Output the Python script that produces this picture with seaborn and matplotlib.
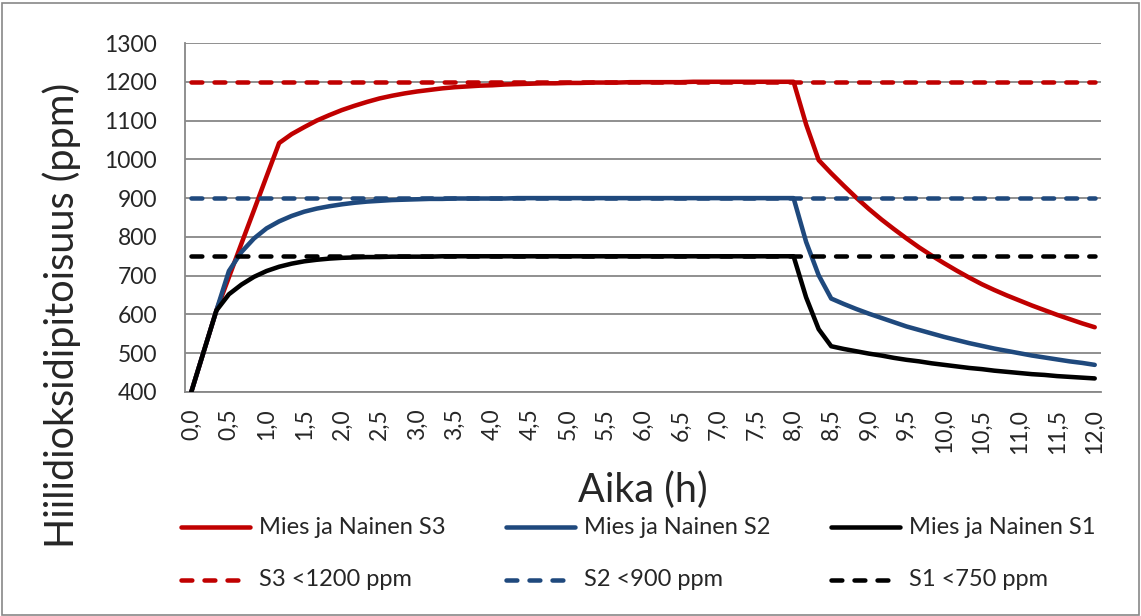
import matplotlib
matplotlib.use("Agg")
import matplotlib.pyplot as plt
from matplotlib.lines import Line2D
from matplotlib.patches import Rectangle
import pandas as pd
import seaborn as sns

# Time axis: 10-minute steps from 0 to 12 h
minutes = list(range(0, 721, 10))
tick_labels = ["0,0", "0,5", "1,0", "1,5", "2,0", "2,5", "3,0", "3,5", "4,0",
               "4,5", "5,0", "5,5", "6,0", "6,5", "7,0", "7,5", "8,0", "8,5",
               "9,0", "9,5", "10,0", "10,5", "11,0", "11,5", "12,0"]

# CO2 concentration (ppm), one value per 10 minutes
s3_ppm = [400, 505, 610, 696, 783, 869, 956, 1042,
          1065, 1083, 1100, 1114, 1127, 1138, 1148, 1157, 1164, 1170, 1175,
          1179, 1183, 1186, 1188,
          1190, 1191, 1193, 1194, 1195, 1196, 1196, 1197, 1197, 1198, 1198,
          1198, 1199,
          1199, 1199, 1199, 1199, 1200, 1200, 1200, 1200, 1200, 1200, 1200,
          1200, 1200,
          1090, 998, 964, 932, 901, 872, 845, 820, 796, 773, 752, 732, 713,
          695, 678, 663, 649, 636, 623, 611, 599, 588, 577, 567]
s2_ppm = [400, 505, 610,
          712, 761, 796, 822, 840, 854, 865, 873, 879, 884, 888, 891, 893,
          895, 896, 897, 898, 898,
          899, 899, 899, 899, 899,
          900, 900, 900, 900, 900, 900, 900, 900, 900, 900, 900, 900, 900,
          900, 900, 900, 900, 900, 900, 900, 900, 900, 900,
          787, 701, 641, 627, 614, 602, 591, 580, 569, 560, 551, 542, 534,
          526, 519, 512, 506, 500, 494, 489, 484, 479, 475, 470]
s1_ppm = [400, 505, 610,
          652, 677, 697, 712, 723, 731, 737, 741, 744, 746, 747, 748, 748,
          749, 749, 749, 749,
          750, 750, 750, 750, 750, 750, 750, 750, 750, 750, 750, 750, 750,
          750, 750, 750, 750, 750, 750, 750, 750, 750, 750, 750, 750, 750,
          750, 750, 750,
          644, 562, 518, 511, 505, 499, 494, 488, 483, 479, 474, 470, 466,
          462, 459, 455, 452, 449, 446, 444, 441, 439, 437, 435]
s3_limit = 1200
s2_limit = 900
s1_limit = 750

series_names = ["Mies ja Nainen S3", "Mies ja Nainen S2", "Mies ja Nainen S1",
                "S3 <1200 ppm", "S2 <900 ppm", "S1 <750 ppm"]
RED, BLUE, BLACK = "#C00000", "#1F497D", "#000000"
colors = [RED, BLUE, BLACK, RED, BLUE, BLACK]
DASH = (2.4, 2.7)
dash_map = {n: ("" if i < 3 else DASH) for i, n in enumerate(series_names)}

n = len(minutes)
values = [s3_ppm, s2_ppm, s1_ppm, [s3_limit] * n, [s2_limit] * n, [s1_limit] * n]
frames = []
for name, vals in zip(series_names, values):
    frames.append(pd.DataFrame({"pos": range(n), "ppm": vals, "series": name}))
df = pd.concat(frames, ignore_index=True)

sns.set_theme(style="white")
plt.rcParams["font.family"] = ["Lato", "DejaVu Sans"]

W, H = 1141, 616
fig = plt.figure(figsize=(W / 100, H / 100), dpi=100)
ax = fig.add_axes([185 / W, 1 - 392 / H, 916 / W, 349 / H])

GRID = "#878787"
LW = 3.25
sns.lineplot(data=df, x="pos", y="ppm", hue="series", style="series",
             hue_order=series_names, style_order=series_names,
             palette=dict(zip(series_names, colors)), dashes=dash_map,
             linewidth=LW, legend=False, ax=ax, zorder=3)
for line in ax.lines:
    line.set_dash_capstyle("round")
    line.set_solid_capstyle("round")
    line.set_solid_joinstyle("round")

ax.set_xlim(-0.5, n - 0.5)
ax.set_ylim(400, 1300)
ax.set_yticks(range(400, 1301, 100))
ax.yaxis.grid(True, color=GRID, linewidth=1.3)
ax.set_axisbelow(True)

# Category boundaries carry the tick marks, labels sit at every third category
ax.set_xticks([i - 0.5 for i in range(n + 1)], minor=False)
ax.set_xticklabels([])
ax.set_xticks(list(range(0, n, 3)), minor=True)
ax.set_xticklabels(tick_labels, minor=True, rotation=90, fontsize=16.5)
ax.tick_params(axis="x", which="major", length=5, width=1.3, color=GRID,
               direction="out")
ax.tick_params(axis="x", which="minor", length=0, pad=12)
ax.tick_params(axis="y", length=5, width=1.3, color=GRID, direction="out",
               labelsize=16.5, pad=15)
for lab in ax.get_xticklabels(minor=True):
    lab.set_verticalalignment("top")

for side in ("top", "right"):
    ax.spines[side].set_visible(False)
for side in ("left", "bottom"):
    ax.spines[side].set_color(GRID)
    ax.spines[side].set_linewidth(1.3)
ax.set_xlabel("")
ax.set_ylabel("")

fig.text(643 / W, 1 - 490 / H, "Aika (h)", fontsize=28.5, ha="center",
         va="center")
fig.text(62 / W, 1 - 315 / H, "Hiilidioksidipitoisuus (ppm)", fontsize=28.5,
         rotation=90, ha="center", va="center")

# Legend: three columns, solid series on the first row, limits on the second
col_x = [181, 506, 831]
row_y = [527, 580]
for i, (name, color) in enumerate(zip(series_names, colors)):
    cx = col_x[i % 3]
    cy = row_y[i // 3]
    if i < 3:
        x0, x1, ls = cx, cx + 69, "-"
    else:
        x0, x1, ls = cx, cx + 62, (0, DASH)
    fig.add_artist(Line2D([x0 / W, x1 / W], [1 - cy / H, 1 - cy / H],
                          color=color, linewidth=LW, linestyle=ls,
                          dash_capstyle="round", solid_capstyle="round"))
    fig.text((cx + 78) / W, 1 - cy / H, name, fontsize=17, ha="left",
             va="center")

fig.add_artist(Rectangle((1.5 / W, 1.5 / H), (W - 4) / W, (H - 4) / H,
                         fill=False, edgecolor=GRID, linewidth=1.2))

fig.savefig("out.png", dpi=100)
